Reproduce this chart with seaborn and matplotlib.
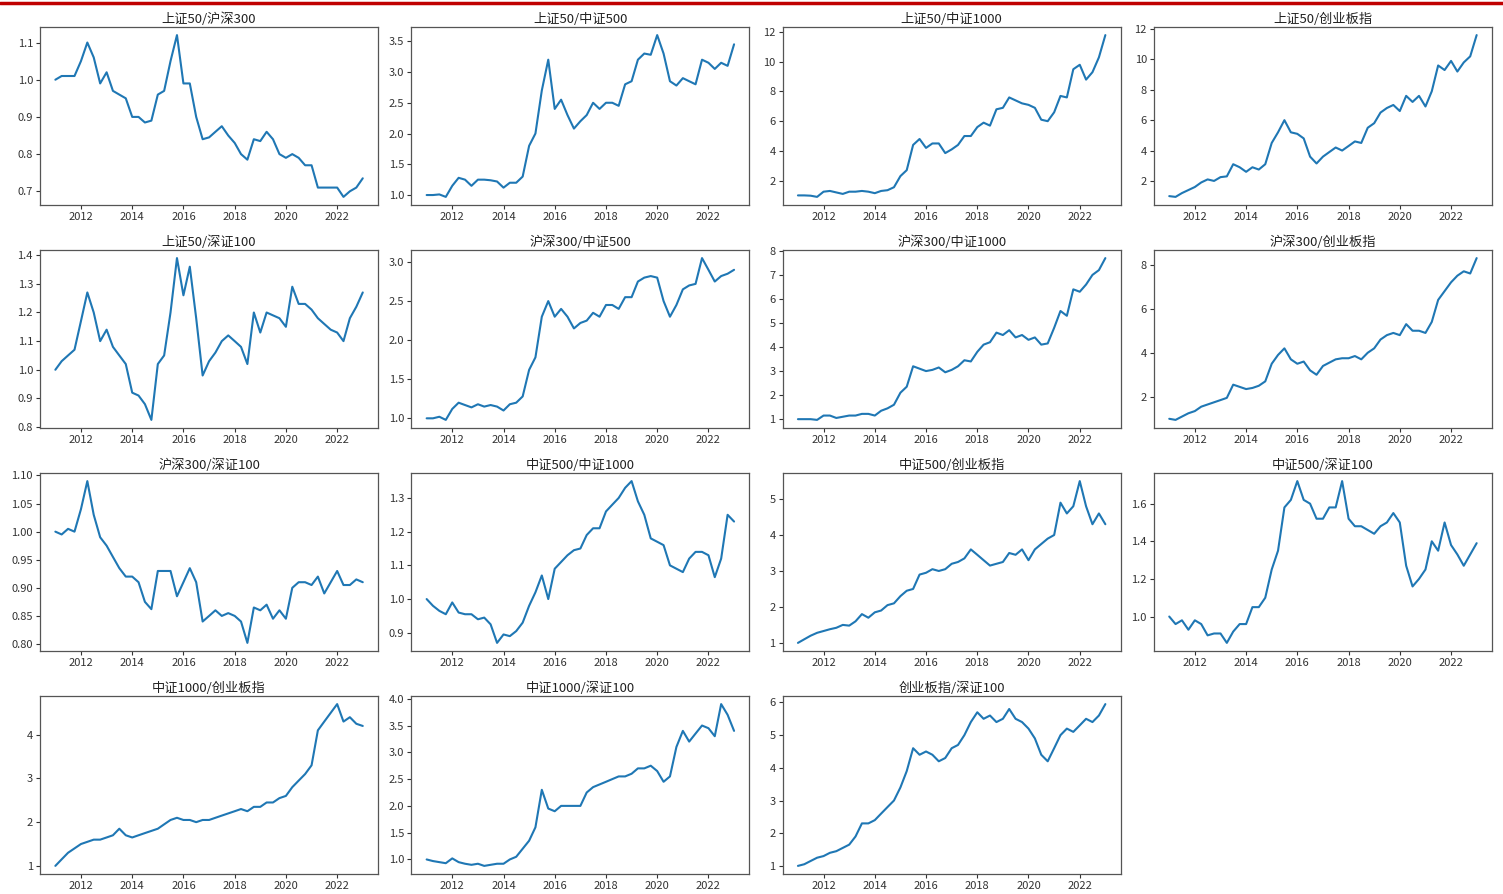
import matplotlib
matplotlib.use("Agg")
import matplotlib.pyplot as plt
import matplotlib.dates as mdates
from matplotlib.lines import Line2D
import seaborn as sns
import pandas as pd

# quarterly sample dates, 2011-01 .. 2023-01
dates = pd.date_range("2011-01-01", periods=49, freq="QS")

titles = [
    "上证50/沪深300", "上证50/中证500", "上证50/中证1000", "上证50/创业板指",
    "上证50/深证100", "沪深300/中证500", "沪深300/中证1000", "沪深300/创业板指",
    "沪深300/深证100", "中证500/中证1000", "中证500/创业板指", "中证500/深证100",
    "中证1000/创业板指", "中证1000/深证100", "创业板指/深证100",
]

sz50_hs300 = [1.00, 1.01, 1.01, 1.01, 1.05, 1.10, 1.06, 0.99, 1.02, 0.97, 0.96, 0.95,
              0.90, 0.90, 0.885, 0.89, 0.96, 0.97, 1.05, 1.12, 0.99, 0.99, 0.90, 0.84,
              0.845, 0.86, 0.875, 0.85, 0.83, 0.80, 0.785, 0.84, 0.835, 0.86, 0.84, 0.80,
              0.79, 0.80, 0.79, 0.77, 0.77, 0.71, 0.71, 0.71, 0.71, 0.685, 0.70, 0.71, 0.735]
sz50_zz500 = [1.00, 1.00, 1.01, 0.97, 1.15, 1.28, 1.25, 1.15, 1.25, 1.25, 1.24, 1.22,
              1.12, 1.20, 1.20, 1.30, 1.80, 2.00, 2.70, 3.20, 2.40, 2.55, 2.30, 2.08,
              2.20, 2.30, 2.50, 2.40, 2.50, 2.50, 2.45, 2.80, 2.85, 3.20, 3.30, 3.28,
              3.60, 3.30, 2.85, 2.78, 2.90, 2.85, 2.80, 3.20, 3.15, 3.05, 3.15, 3.10, 3.45]
sz50_zz1000 = [1.0, 1.0, 0.98, 0.90, 1.25, 1.30, 1.20, 1.10, 1.25, 1.25, 1.30, 1.25,
               1.15, 1.30, 1.35, 1.55, 2.3, 2.7, 4.4, 4.8, 4.2, 4.5, 4.5, 3.85,
               4.1, 4.4, 5.0, 5.0, 5.6, 5.9, 5.7, 6.8, 6.9, 7.6, 7.4, 7.2,
               7.1, 6.9, 6.1, 6.0, 6.6, 7.7, 7.6, 9.5, 9.8, 8.8, 9.3, 10.3, 11.8]
sz50_cyb = [1.0, 0.95, 1.2, 1.4, 1.6, 1.9, 2.1, 2.0, 2.25, 2.3, 3.1, 2.9,
            2.6, 2.9, 2.75, 3.1, 4.5, 5.2, 6.0, 5.2, 5.1, 4.8, 3.6, 3.15,
            3.6, 3.9, 4.2, 4.0, 4.3, 4.6, 4.5, 5.5, 5.8, 6.5, 6.8, 7.0,
            6.6, 7.6, 7.2, 7.6, 6.9, 7.9, 9.6, 9.3, 9.9, 9.2, 9.8, 10.2, 11.6]
sz50_szz100 = [1.00, 1.03, 1.05, 1.07, 1.17, 1.27, 1.20, 1.10, 1.14, 1.08, 1.05, 1.02,
               0.92, 0.91, 0.88, 0.825, 1.02, 1.05, 1.20, 1.39, 1.26, 1.36, 1.18, 0.98,
               1.03, 1.06, 1.10, 1.12, 1.10, 1.08, 1.02, 1.20, 1.13, 1.20, 1.19, 1.18,
               1.15, 1.29, 1.23, 1.23, 1.21, 1.18, 1.16, 1.14, 1.13, 1.10, 1.18, 1.22, 1.27]
hs300_zz500 = [1.00, 1.00, 1.02, 0.98, 1.12, 1.20, 1.17, 1.14, 1.18, 1.15, 1.17, 1.15,
               1.10, 1.18, 1.20, 1.28, 1.62, 1.78, 2.30, 2.50, 2.30, 2.40, 2.30, 2.15,
               2.22, 2.25, 2.35, 2.30, 2.45, 2.45, 2.40, 2.55, 2.55, 2.75, 2.80, 2.82,
               2.80, 2.50, 2.30, 2.45, 2.65, 2.70, 2.72, 3.05, 2.90, 2.75, 2.82, 2.85, 2.90]
hs300_zz1000 = [1.0, 1.0, 1.0, 0.97, 1.15, 1.15, 1.05, 1.10, 1.15, 1.15, 1.22, 1.22,
                1.15, 1.35, 1.45, 1.60, 2.1, 2.35, 3.2, 3.1, 3.0, 3.05, 3.15, 2.95,
                3.05, 3.2, 3.45, 3.4, 3.8, 4.1, 4.2, 4.6, 4.5, 4.7, 4.4, 4.5,
                4.3, 4.4, 4.1, 4.15, 4.8, 5.5, 5.3, 6.4, 6.3, 6.6, 7.0, 7.2, 7.7]
hs300_cyb = [1.0, 0.95, 1.1, 1.25, 1.35, 1.55, 1.65, 1.75, 1.85, 1.95, 2.55, 2.45,
             2.35, 2.4, 2.5, 2.7, 3.5, 3.9, 4.2, 3.7, 3.5, 3.6, 3.2, 3.0,
             3.4, 3.55, 3.7, 3.75, 3.75, 3.85, 3.7, 4.0, 4.2, 4.6, 4.8, 4.9,
             4.8, 5.3, 5.0, 5.0, 4.9, 5.4, 6.4, 6.8, 7.2, 7.5, 7.7, 7.6, 8.3]
hs300_szz100 = [1.00, 0.995, 1.005, 1.00, 1.04, 1.09, 1.03, 0.99, 0.975, 0.955, 0.935, 0.92,
                0.92, 0.91, 0.875, 0.862, 0.93, 0.93, 0.93, 0.885, 0.91, 0.935, 0.91, 0.84,
                0.85, 0.86, 0.85, 0.855, 0.85, 0.84, 0.802, 0.865, 0.86, 0.87, 0.845, 0.86,
                0.845, 0.90, 0.91, 0.91, 0.905, 0.92, 0.89, 0.91, 0.93, 0.905, 0.905, 0.915, 0.91]
zz500_zz1000 = [1.00, 0.98, 0.965, 0.955, 0.99, 0.96, 0.955, 0.955, 0.94, 0.945, 0.925, 0.87,
                0.895, 0.89, 0.905, 0.93, 0.98, 1.02, 1.07, 1.00, 1.09, 1.11, 1.13, 1.145,
                1.15, 1.19, 1.21, 1.21, 1.26, 1.28, 1.30, 1.33, 1.35, 1.29, 1.25, 1.18,
                1.17, 1.16, 1.10, 1.09, 1.08, 1.12, 1.14, 1.14, 1.13, 1.065, 1.12, 1.25, 1.23]
zz500_cyb = [1.0, 1.1, 1.2, 1.28, 1.33, 1.38, 1.42, 1.5, 1.48, 1.6, 1.8, 1.7,
             1.85, 1.9, 2.05, 2.1, 2.3, 2.45, 2.5, 2.9, 2.95, 3.05, 3.0, 3.05,
             3.2, 3.25, 3.35, 3.6, 3.45, 3.3, 3.15, 3.2, 3.25, 3.5, 3.45, 3.6,
             3.3, 3.6, 3.75, 3.9, 4.0, 4.9, 4.6, 4.8, 5.5, 4.8, 4.3, 4.6, 4.3]
zz500_szz100 = [1.00, 0.96, 0.98, 0.93, 0.98, 0.96, 0.90, 0.91, 0.91, 0.86, 0.92, 0.96,
                0.96, 1.05, 1.05, 1.10, 1.25, 1.35, 1.58, 1.62, 1.72, 1.62, 1.60, 1.52,
                1.52, 1.58, 1.58, 1.72, 1.52, 1.48, 1.48, 1.46, 1.44, 1.48, 1.50, 1.55,
                1.50, 1.27, 1.16, 1.20, 1.25, 1.40, 1.35, 1.50, 1.38, 1.33, 1.27, 1.33, 1.39]
zz1000_cyb = [1.0, 1.15, 1.3, 1.4, 1.5, 1.55, 1.6, 1.6, 1.65, 1.7, 1.85, 1.7,
              1.65, 1.7, 1.75, 1.8, 1.85, 1.95, 2.05, 2.1, 2.05, 2.05, 2.0, 2.05,
              2.05, 2.1, 2.15, 2.2, 2.25, 2.3, 2.25, 2.35, 2.35, 2.45, 2.45, 2.55,
              2.6, 2.8, 2.95, 3.1, 3.3, 4.1, 4.3, 4.5, 4.7, 4.3, 4.4, 4.25, 4.2]
zz1000_szz100 = [1.0, 0.97, 0.95, 0.93, 1.02, 0.95, 0.92, 0.90, 0.92, 0.88, 0.90, 0.92,
                 0.92, 1.0, 1.05, 1.2, 1.35, 1.6, 2.3, 1.95, 1.9, 2.0, 2.0, 2.0,
                 2.0, 2.25, 2.35, 2.4, 2.45, 2.5, 2.55, 2.55, 2.6, 2.7, 2.7, 2.75,
                 2.65, 2.45, 2.55, 3.1, 3.4, 3.2, 3.35, 3.5, 3.45, 3.3, 3.9, 3.7, 3.4]
cyb_szz100 = [1.0, 1.05, 1.15, 1.25, 1.3, 1.4, 1.45, 1.55, 1.65, 1.9, 2.3, 2.3,
              2.4, 2.6, 2.8, 3.0, 3.4, 3.9, 4.6, 4.4, 4.5, 4.4, 4.2, 4.3,
              4.6, 4.7, 5.0, 5.4, 5.7, 5.5, 5.6, 5.4, 5.5, 5.8, 5.5, 5.4,
              5.2, 4.9, 4.4, 4.2, 4.6, 5.0, 5.2, 5.1, 5.3, 5.5, 5.4, 5.6, 5.95]

series = [sz50_hs300, sz50_zz500, sz50_zz1000, sz50_cyb,
          sz50_szz100, hs300_zz500, hs300_zz1000, hs300_cyb,
          hs300_szz100, zz500_zz1000, zz500_cyb, zz500_szz100,
          zz1000_cyb, zz1000_szz100, cyb_szz100]

sns.set_style("ticks")
plt.rcParams["font.family"] = ["Noto Sans CJK SC", "DejaVu Sans"]
plt.rcParams["axes.unicode_minus"] = False
plt.rcParams["axes.edgecolor"] = "#555555"
plt.rcParams["axes.linewidth"] = 0.9
plt.rcParams["xtick.color"] = "#333333"
plt.rcParams["ytick.color"] = "#333333"

fig, axes = plt.subplots(4, 4, figsize=(15.03, 8.94), dpi=100)
fig.subplots_adjust(left=0.0266, right=0.9927, top=0.9698, bottom=0.0224,
                    wspace=0.098, hspace=0.253)

for i, ax in enumerate(axes.flat):
    if i >= len(series):
        ax.set_visible(False)
        continue
    df = pd.DataFrame({"date": dates, "value": series[i]})
    sns.lineplot(data=df, x="date", y="value", ax=ax, color="#1f77b4", linewidth=1.5)
    ax.set_title(titles[i], fontsize=9.5, pad=3, color="#222222")
    ax.set_xlabel("")
    ax.set_ylabel("")
    ax.xaxis.set_major_locator(mdates.YearLocator(2))
    ax.xaxis.set_major_formatter(mdates.DateFormatter("%Y"))
    ax.tick_params(labelsize=8, length=3, width=0.8, pad=2)

# red rule along the top
fig.add_artist(Line2D([0, 1], [0.9966, 0.9966], color="#c00000", linewidth=2.5,
                      transform=fig.transFigure))

fig.savefig("out.png", dpi=100)
